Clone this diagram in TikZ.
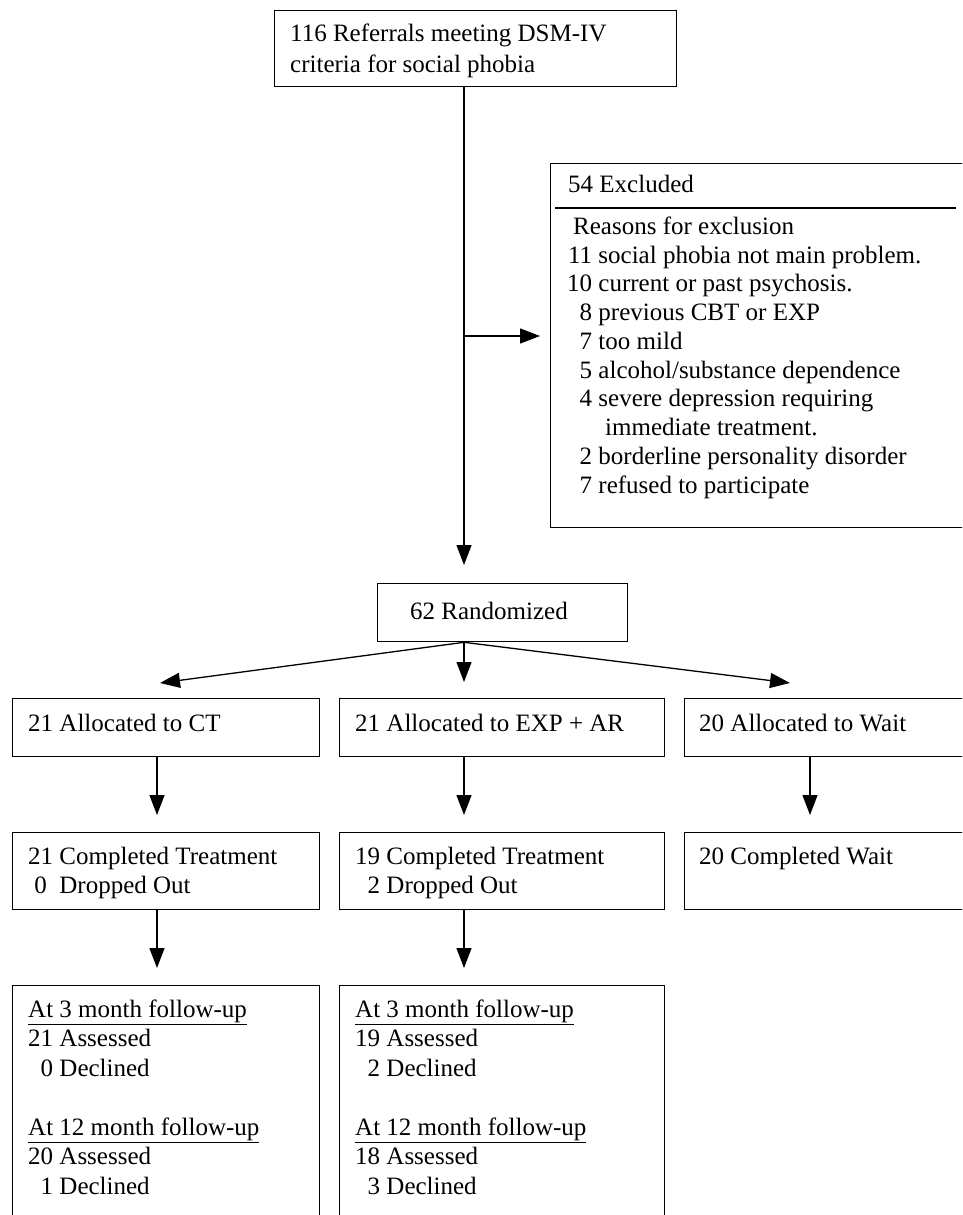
\documentclass[tikz,border=0pt]{standalone}
\usepackage{fontspec}
\setmainfont{Liberation Serif}
\usetikzlibrary{arrows.meta}
\begin{document}
\begin{tikzpicture}[x=1pt,y=-1pt,
  box/.style={draw, line width=1.3pt, inner sep=0pt, anchor=north west},
  txt/.style={anchor=base west, inner sep=0pt, font=\fontsize{25}{29.5}\selectfont},
  arr/.style={line width=1.3pt, -{Triangle[length=20pt,width=15pt]}}]
\useasboundingbox (0,0) rectangle (962,1215);
\clip (0,0) rectangle (962,1215);
% boxes
\node[box, minimum width=402pt, minimum height=76pt] (top) at (274,10) {};
\node[box, minimum width=450pt, minimum height=364pt] (excl) at (550,163) {};
\node[box, minimum width=250pt, minimum height=58pt] (rand) at (377,583) {};
\node[box, minimum width=307pt, minimum height=58pt] (allocA) at (12,698) {};
\node[box, minimum width=325pt, minimum height=58pt] (allocB) at (339,698) {};
\node[box, minimum width=300pt, minimum height=58pt] (allocC) at (684,698) {};
\node[box, minimum width=307pt, minimum height=77pt] (compA) at (12,832) {};
\node[box, minimum width=325pt, minimum height=77pt] (compB) at (339,832) {};
\node[box, minimum width=300pt, minimum height=77pt] (compC) at (684,832) {};
\node[box, minimum width=307pt, minimum height=260pt] (fuA) at (12,985) {};
\node[box, minimum width=325pt, minimum height=260pt] (fuB) at (339,985) {};
% texts
\node[txt] (t1) at (290,42) {116 Referrals meeting DSM-IV};
\node[txt] (t2) at (290,72) {criteria for social phobia};
\node[txt] (e0) at (568,192) {54 Excluded};
\draw[line width=2.4pt] (555,208) -- (956,208);
\node[txt] (e1) at (573,234) {Reasons for exclusion};
\node[txt] (e2) at (567,263) {\makebox[25pt][r]{11} social phobia not main problem.};
\node[txt] (e3) at (567,291.75) {\makebox[25pt][r]{10} current or past psychosis.};
\node[txt] (e4) at (567,320.5) {\makebox[25pt][r]{8} previous CBT or EXP};
\node[txt] (e5) at (567,349.25) {\makebox[25pt][r]{7} too mild};
\node[txt] (e6) at (567,378) {\makebox[25pt][r]{5} alcohol/substance dependence};
\node[txt] (e7) at (567,406.75) {\makebox[25pt][r]{4} severe depression requiring};
\node[txt] (e8) at (605,435.5) {immediate treatment.};
\node[txt] (e9) at (567,464.25) {\makebox[25pt][r]{2} borderline personality disorder};
\node[txt] (e10) at (567,493) {\makebox[25pt][r]{7} refused to participate};
\node[txt] (r1) at (410,619) {62 Randomized};
\node[txt] (a1) at (28,731) {21 Allocated to CT};
\node[txt] (a2) at (355,731) {21 Allocated to EXP + AR};
\node[txt] (a3) at (699,731) {20 Allocated to Wait};
\node[txt] (c1) at (28,864) {21 Completed Treatment};
\node[txt] (c2) at (28,893) {\makebox[25pt][c]{0} Dropped Out};
\node[txt] (c3) at (355,864) {19 Completed Treatment};
\node[txt] (c4) at (355,893) {\makebox[25pt][r]{2} Dropped Out};
\node[txt] (c5) at (699,864) {20 Completed Wait};
\node[txt] (f1) at (28,1017) {\underline{At 3 month follow-up}};
\node[txt] (f2) at (28,1046.5) {21 Assessed};
\node[txt] (f3) at (28,1076) {\makebox[25pt][r]{0} Declined};
\node[txt] (f4) at (28,1135) {\underline{At 12 month follow-up}};
\node[txt] (f5) at (28,1164.5) {20 Assessed};
\node[txt] (f6) at (28,1194) {\makebox[25pt][r]{1} Declined};
\node[txt] (g1) at (355,1017) {\underline{At 3 month follow-up}};
\node[txt] (g2) at (355,1046.5) {19 Assessed};
\node[txt] (g3) at (355,1076) {\makebox[25pt][r]{2} Declined};
\node[txt] (g4) at (355,1135) {\underline{At 12 month follow-up}};
\node[txt] (g5) at (355,1164.5) {18 Assessed};
\node[txt] (g6) at (355,1194) {\makebox[25pt][r]{3} Declined};
% connectors
\coordinate (sp) at (464,336);
\coordinate (colA) at (157,0);
\coordinate (colC) at (810,0);
\coordinate (lt) at (160,683);
\coordinate (ct) at (464,682);
\coordinate (rt) at (790,683);
\draw[arr, shorten >=18pt] (top.south -| sp) -- (rand.north -| sp);
\draw[arr, shorten >=10pt] (sp) -- (excl.west |- sp);
\draw[arr] (rand.south -| sp) -- (lt);
\draw[arr] (rand.south -| sp) -- (ct);
\draw[arr] (rand.south -| sp) -- (rt);
\draw[arr, shorten >=17pt] (allocA.south -| colA) -- (compA.north -| colA);
\draw[arr, shorten >=17pt] (allocB.south -| sp) -- (compB.north -| sp);
\draw[arr, shorten >=17pt] (allocC.south -| colC) -- (compC.north -| colC);
\draw[arr, shorten >=17pt] (compA.south -| colA) -- (fuA.north -| colA);
\draw[arr, shorten >=17pt] (compB.south -| sp) -- (fuB.north -| sp);
\end{tikzpicture}
\end{document}
